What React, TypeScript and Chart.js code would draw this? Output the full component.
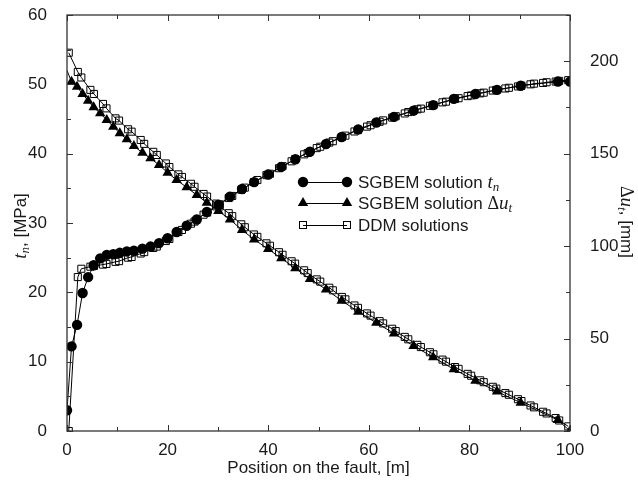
import React, { useEffect, useRef } from "react";
import { Chart, registerables } from "chart.js";

Chart.register(...registerables);

// ---------------- DATA ----------------
const SGBEM_X = [0, 0.9, 2.0, 3.1, 4.2, 5.3, 6.6, 7.9, 9.2, 10.5, 11.9, 13.3, 15.0, 16.6, 18.3, 20.0, 21.8, 23.8, 25.8, 27.8, 30.1, 32.4, 34.8, 37.2, 40.0, 42.6, 45.4, 48.3, 51.5, 54.6, 57.9, 61.5, 65.0, 68.9, 72.8, 76.9, 81.2, 85.5, 90.2, 97.6, 100];
const SGBEM_TN = [3.0, 12.2, 15.3, 19.9, 22.2, 23.9, 24.9, 25.4, 25.5, 25.7, 25.9, 26.0, 26.3, 26.6, 27.1, 27.8, 28.7, 29.6, 30.5, 31.6, 32.6, 33.8, 34.9, 35.9, 37.0, 38.1, 39.2, 40.3, 41.4, 42.4, 43.5, 44.5, 45.3, 46.2, 47.0, 47.9, 48.6, 49.2, 49.8, 50.4, 50.4];
const SGBEM_DU = [195, 188.9, 186.2, 182.3, 178.6, 175.1, 171.8, 168.2, 164.6, 161.0, 157.8, 154.1, 150.5, 147.5, 143.9, 139.7, 135.7, 131.8, 127.6, 123.5, 119.0, 114.4, 108.7, 103.6, 98.4, 93.4, 88.0, 82.2, 76.6, 70.5, 64.5, 58.5, 52.8, 46.0, 39.9, 33.4, 27.2, 21.3, 15.3, 5.9, 0];

const DDM_X = [0.35, 2.15, 2.85, 4.65, 5.35, 7.15, 7.85, 9.65, 10.35, 12.15, 12.85, 14.65, 15.35, 17.15, 17.85, 19.65, 20.35, 22.15, 22.85, 24.65, 25.35, 27.15, 27.85, 29.65, 30.35, 32.15, 32.85, 34.65, 35.35, 37.15, 37.85, 39.65, 40.35, 42.15, 42.85, 44.65, 45.35, 47.15, 47.85, 49.65, 50.35, 52.15, 52.85, 54.65, 55.35, 57.15, 57.85, 59.65, 60.35, 62.15, 62.85, 64.65, 65.35, 67.15, 67.85, 69.65, 70.35, 72.15, 72.85, 74.65, 75.35, 77.15, 77.85, 79.65, 80.35, 82.15, 82.85, 84.65, 85.35, 87.15, 87.85, 89.65, 90.35, 92.15, 92.85, 94.65, 95.35, 97.15, 97.85, 99.65];
const DDM_TN = [0, 22.2, 23.4, 23.7, 23.8, 24.0, 24.1, 24.4, 24.5, 25.0, 25.1, 25.6, 25.8, 26.4, 26.6, 27.4, 27.7, 28.7, 29.0, 29.9, 30.2, 31.2, 31.5, 32.4, 32.7, 33.6, 33.9, 34.8, 35.1, 35.9, 36.2, 36.9, 37.1, 37.9, 38.2, 38.9, 39.2, 39.9, 40.1, 40.8, 41.0, 41.6, 41.8, 42.4, 42.6, 43.2, 43.4, 43.9, 44.1, 44.6, 44.8, 45.2, 45.4, 45.8, 46.0, 46.4, 46.5, 46.9, 47.0, 47.4, 47.5, 47.9, 48.0, 48.3, 48.4, 48.7, 48.8, 49.1, 49.2, 49.4, 49.5, 49.7, 49.8, 50.0, 50.1, 50.2, 50.3, 50.4, 50.5, 50.6];
const DDM_DU = [204.6, 194.2, 191.2, 184.5, 182.3, 176.9, 174.5, 169.1, 167.9, 163.2, 161.9, 157.4, 155.3, 151.0, 149.3, 144.7, 142.8, 138.8, 137.4, 133.7, 132.1, 128.2, 126.8, 123.0, 121.5, 117.8, 116.2, 111.8, 110.2, 106.3, 105.0, 101.5, 100.2, 96.7, 95.3, 91.8, 90.5, 86.9, 85.4, 82.0, 80.8, 77.5, 76.1, 72.5, 71.2, 67.9, 66.6, 63.6, 62.4, 59.4, 58.2, 55.3, 54.1, 50.9, 49.6, 46.6, 45.4, 42.6, 41.5, 38.6, 37.5, 34.6, 33.6, 30.9, 29.9, 27.4, 26.4, 23.9, 22.9, 20.5, 19.6, 17.2, 16.2, 13.8, 12.8, 10.4, 9.5, 7.0, 5.7, 2.5];

const X_TICKS = [0, 20, 40, 60, 80, 100];
const LEFT_TICKS = [0, 10, 20, 30, 40, 50, 60];
const RIGHT_TICKS = [0, 50, 100, 150, 200];

const LEGEND_LABELS = ["SGBEM solution ", "SGBEM solution ", "DDM solutions"];
const X_TITLE = "Position on the fault, [m]";

// ---------------- STYLE ----------------
const SANS = '"Liberation Sans", Arial, Helvetica, sans-serif';
const SERIF = '"Liberation Serif", "Times New Roman", serif';
const TEXT = "#1a1a1a";

type Part = { t: string; font: string; dy?: number };

function partsWidth(ctx: CanvasRenderingContext2D, parts: Part[]) {
  let w = 0;
  for (const p of parts) {
    ctx.font = p.font;
    w += ctx.measureText(p.t).width;
  }
  return w;
}
function drawParts(ctx: CanvasRenderingContext2D, parts: Part[], x: number, y: number) {
  let cx = x;
  for (const p of parts) {
    ctx.font = p.font;
    ctx.fillText(p.t, cx, y + (p.dy || 0));
    cx += ctx.measureText(p.t).width;
  }
}

function marker(ctx: CanvasRenderingContext2D, style: string, x: number, y: number) {
  ctx.save();
  ctx.fillStyle = "#000";
  ctx.strokeStyle = "#000";
  ctx.lineWidth = 1;
  if (style === "circle") {
    ctx.beginPath();
    ctx.arc(x, y, 5.2, 0, Math.PI * 2);
    ctx.fill();
  } else if (style === "triangle") {
    const r = 6;
    ctx.beginPath();
    for (let i = 0; i < 3; i++) {
      const a = (i * 2 * Math.PI) / 3;
      const px = x + Math.sin(a) * r;
      const py = y - Math.cos(a) * r;
      if (i === 0) ctx.moveTo(px, py);
      else ctx.lineTo(px, py);
    }
    ctx.closePath();
    ctx.fill();
  } else {
    const s = 3.5;
    ctx.strokeRect(x - s, y - s, 2 * s, 2 * s);
  }
  ctx.restore();
}

const decor = {
  id: "decor",
  afterDatasetsDraw(chart: any) {
    const ctx: CanvasRenderingContext2D = chart.ctx;
    const a = chart.chartArea;
    const xs = chart.scales.x;
    const yl = chart.scales.y;
    const yr = chart.scales.y2;
    ctx.save();
    ctx.strokeStyle = "#333";
    ctx.lineWidth = 1.3;
    ctx.strokeRect(a.left, a.top, a.right - a.left, a.bottom - a.top);
    ctx.lineWidth = 1;
    ctx.beginPath();
    for (let v = 0; v <= 100; v += 10) {
      const px = Math.round(xs.getPixelForValue(v)) + 0.5;
      const len = v % 20 === 0 ? 6 : 4;
      ctx.moveTo(px, a.bottom);
      ctx.lineTo(px, a.bottom - len);
      ctx.moveTo(px, a.top);
      ctx.lineTo(px, a.top + len);
    }
    for (let v = 0; v <= 60; v += 5) {
      const py = Math.round(yl.getPixelForValue(v)) + 0.5;
      const len = v % 10 === 0 ? 6 : 4;
      ctx.moveTo(a.left, py);
      ctx.lineTo(a.left + len, py);
    }
    for (let v = 0; v <= 225; v += 25) {
      const py = Math.round(yr.getPixelForValue(v)) + 0.5;
      const len = v % 50 === 0 ? 6 : 4;
      ctx.moveTo(a.right, py);
      ctx.lineTo(a.right - len, py);
    }
    ctx.stroke();
    ctx.restore();
  },
  afterDraw(chart: any) {
    const ctx: CanvasRenderingContext2D = chart.ctx;
    const a = chart.chartArea;
    ctx.save();
    ctx.fillStyle = TEXT;
    ctx.textBaseline = "middle";
    ctx.textAlign = "left";

    // bottom title
    ctx.font = `17px ${SANS}`;
    const tw = ctx.measureText(X_TITLE).width;
    ctx.fillText(X_TITLE, (a.left + a.right) / 2 - tw / 2, 468);

    // left title (rotated, bottom to top)
    const leftParts: Part[] = [
      { t: "t", font: `italic 19px ${SERIF}` },
      { t: "n", font: `italic 13px ${SERIF}`, dy: 5 },
      { t: ", [MPa]", font: `17px ${SANS}` },
    ];
    ctx.save();
    ctx.translate(21, 226);
    ctx.rotate(-Math.PI / 2);
    drawParts(ctx, leftParts, -partsWidth(ctx, leftParts) / 2, 0);
    ctx.restore();

    // right title (rotated, top to bottom)
    const rightParts: Part[] = [
      { t: "\u0394", font: `18px ${SERIF}` },
      { t: "u", font: `italic 19px ${SERIF}` },
      { t: "t", font: `italic 13px ${SERIF}`, dy: 5 },
      { t: ", [mm]", font: `17px ${SANS}` },
    ];
    ctx.save();
    ctx.translate(626, 222);
    ctx.rotate(Math.PI / 2);
    drawParts(ctx, rightParts, -partsWidth(ctx, rightParts) / 2, 0);
    ctx.restore();

    // legend
    const rows = [
      { style: "circle", y: 182, parts: [
        { t: LEGEND_LABELS[0], font: `17px ${SANS}` },
        { t: "t", font: `italic 19px ${SERIF}` },
        { t: "n", font: `italic 13px ${SERIF}`, dy: 5 },
      ] as Part[] },
      { style: "triangle", y: 203, parts: [
        { t: LEGEND_LABELS[1], font: `17px ${SANS}` },
        { t: "\u0394", font: `18px ${SERIF}` },
        { t: "u", font: `italic 19px ${SERIF}` },
        { t: "t", font: `italic 13px ${SERIF}`, dy: 5 },
      ] as Part[] },
      { style: "rect", y: 225, parts: [
        { t: LEGEND_LABELS[2], font: `17px ${SANS}` },
      ] as Part[] },
    ];
    for (const r of rows) {
      ctx.save();
      ctx.strokeStyle = "#000";
      ctx.lineWidth = 1;
      ctx.beginPath();
      ctx.moveTo(303, r.y + 0.5);
      ctx.lineTo(347, r.y + 0.5);
      ctx.stroke();
      ctx.restore();
      marker(ctx, r.style, 303, r.y);
      marker(ctx, r.style, 347, r.y);
      ctx.fillStyle = TEXT;
      drawParts(ctx, r.parts, 358, r.y + 1);
    }
    ctx.restore();
  },
};

function pts(xs: number[], ys: number[]) {
  return xs.map((x, i) => ({ x, y: ys[i] }));
}

export default function App() {
  const ref = useRef<HTMLCanvasElement>(null);
  useEffect(() => {
    if (!ref.current) return;
    const tickFont = { family: SANS, size: 17 };
    const chart = new Chart(ref.current, {
      type: "line",
      data: {
        datasets: [
          {
            label: "DDM t_n",
            data: pts(DDM_X, DDM_TN),
            yAxisID: "y",
            borderColor: "#000",
            borderWidth: 1,
            pointStyle: "rect",
            pointRadius: 5,
            pointBorderWidth: 1,
            pointBorderColor: "#000",
            pointBackgroundColor: "rgba(0,0,0,0)",
            tension: 0,
          },
          {
            label: "DDM du",
            data: pts(DDM_X, DDM_DU),
            yAxisID: "y2",
            borderColor: "#000",
            borderWidth: 1,
            pointStyle: "rect",
            pointRadius: 5,
            pointBorderWidth: 1,
            pointBorderColor: "#000",
            pointBackgroundColor: "rgba(0,0,0,0)",
            tension: 0,
          },
          {
            label: "SGBEM t_n",
            data: pts(SGBEM_X, SGBEM_TN),
            yAxisID: "y",
            borderColor: "#000",
            borderWidth: 1,
            pointStyle: "circle",
            pointRadius: 5.2,
            pointBorderWidth: 0,
            pointBackgroundColor: "#000",
            tension: 0,
          },
          {
            label: "SGBEM du",
            data: pts(SGBEM_X, SGBEM_DU),
            yAxisID: "y2",
            borderColor: "#000",
            borderWidth: 1,
            pointStyle: "triangle",
            pointRadius: (c: any) => (c.dataIndex === 0 ? 0 : 6),
            pointBorderWidth: 0,
            pointBackgroundColor: "#000",
            tension: 0,
          },
        ],
      },
      options: {
        responsive: false,
        animation: false,
        devicePixelRatio: 1,
        layout: { padding: { top: 15, left: 0, right: 0, bottom: 0 } },
        plugins: { legend: { display: false }, tooltip: { enabled: false } },
        scales: {
          x: {
            type: "linear",
            min: 0,
            max: 100,
            afterBuildTicks: (s: any) => { s.ticks = X_TICKS.map((v) => ({ value: v })); },
            afterFit: (s: any) => { s.height = 52; s.paddingLeft = 0; s.paddingRight = 0; },
            grid: { display: false },
            border: { display: false },
            ticks: { font: tickFont, color: TEXT, padding: 1, maxRotation: 0, autoSkip: false },
          },
          y: {
            type: "linear",
            position: "left",
            min: 0,
            max: 60,
            afterBuildTicks: (s: any) => { s.ticks = LEFT_TICKS.map((v) => ({ value: v })); },
            afterFit: (s: any) => { s.width = 67; s.paddingTop = 0; s.paddingBottom = 0; },
            grid: { display: false },
            border: { display: false },
            ticks: { font: tickFont, color: TEXT, padding: 12 },
          },
          y2: {
            type: "linear",
            position: "right",
            min: 0,
            max: 225,
            afterBuildTicks: (s: any) => { s.ticks = RIGHT_TICKS.map((v) => ({ value: v })); },
            afterFit: (s: any) => { s.width = 68; s.paddingTop = 0; s.paddingBottom = 0; },
            grid: { display: false },
            border: { display: false },
            ticks: { font: tickFont, color: TEXT, padding: 12 },
          },
        },
      },
      plugins: [decor],
    } as any);
    return () => chart.destroy();
  }, []);
  return (
    <div style={{ position: "absolute", left: 0, top: 0, width: 638, height: 483, background: "#fff" }}>
      <canvas ref={ref} width={638} height={483} style={{ display: "block", width: 638, height: 483 }} />
    </div>
  );
}
